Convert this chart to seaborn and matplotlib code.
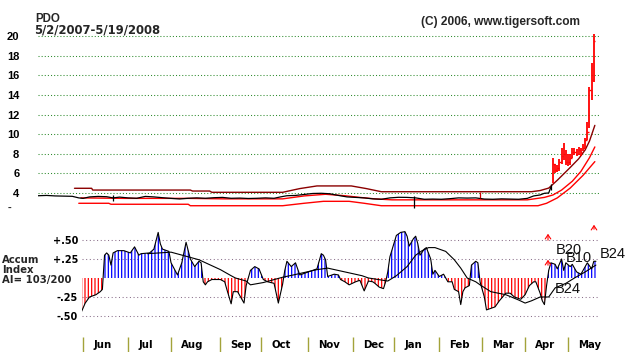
import matplotlib
matplotlib.use("Agg")
import matplotlib.pyplot as plt
import numpy as np
import seaborn as sns

# ---------------- data (trading-day index from 5/2/2007) ----------------
price_ticks = [4, 6, 8, 10, 12, 14, 16, 18, 20]
price_tick_labels = ["4", "6", "8", "10", "12", "14", "16", "18", "20"]

close_days = [0, 4, 8, 12, 16, 19, 21, 24, 28, 32, 35, 38, 42, 46, 50, 54, 58, 62, 66, 70,
              74, 78, 82, 86, 90, 94, 98, 102, 106, 110, 113, 116, 120, 124, 128, 132, 136,
              140, 144, 148, 152, 156, 160, 164, 168, 172, 176, 180, 184, 188, 192, 196, 200,
              204, 208, 212, 216, 220, 224, 228, 231, 234, 236, 238, 239]
close_vals = [3.72, 3.75, 3.70, 3.68, 3.66, 3.50, 3.45, 3.60, 3.65, 3.62, 3.50, 3.58, 3.50,
              3.46, 3.65, 3.60, 3.52, 3.45, 3.39, 3.46, 3.50, 3.46, 3.52, 3.55, 3.46, 3.48,
              3.44, 3.46, 3.50, 3.46, 3.60, 3.72, 3.75, 3.85, 3.95, 3.97, 3.92, 3.75, 3.60,
              3.55, 3.50, 3.40, 3.36, 3.50, 3.56, 3.55, 3.50, 3.36, 3.38, 3.36, 3.42, 3.50,
              3.48, 3.50, 3.38, 3.36, 3.40, 3.38, 3.36, 3.45, 3.70, 3.80, 3.97, 4.00, 4.60]

wick_days = [35, 175, 239]
wick_high = [3.75, 3.70, 4.90]
wick_low = [3.20, 2.50, 4.30]
red_wick_days = [206]
red_wick_high = [4.15]
red_wick_low = [3.50]

bar_days = [240, 241, 242, 243, 244, 245, 246, 247, 248, 249, 250, 251, 252, 253, 254, 255,
            256, 257, 258, 259]
bar_high = [7.6, 7.0, 6.9, 7.5, 8.6, 9.1, 8.4, 8.0, 8.0, 8.6, 8.6, 8.5, 8.7, 8.6, 9.0, 9.6,
            11.2, 14.8, 17.3, 20.2]
bar_low = [5.0, 6.0, 6.1, 6.2, 7.0, 7.4, 6.9, 6.8, 6.9, 7.6, 7.9, 7.8, 7.9, 7.8, 8.3, 8.6,
           9.4, 10.6, 13.5, 15.3]
bar_close = [7.0, 6.3, 6.5, 7.2, 7.8, 8.0, 7.2, 7.2, 7.6, 8.2, 8.2, 8.0, 8.4, 8.2, 8.6, 9.4,
             10.2, 14.5, 15.5, 19.5]

up_days = [17, 25, 25.5, 71, 72, 80, 81, 114, 122, 130, 146, 153, 160, 230, 234, 238, 242,
           248, 252, 255, 257, 259.5]
up_vals = [4.48, 4.48, 4.30, 4.30, 4.20, 4.20, 4.07, 4.07, 4.45, 4.72, 4.72, 4.45, 4.13,
           4.13, 4.25, 4.50, 5.30, 6.60, 7.50, 8.40, 9.30, 10.90]
mid_days = [20, 40, 70, 87, 114, 124, 134, 143, 150, 157, 165, 228, 236, 240, 244, 249, 253,
            257, 259.5]
mid_vals = [3.50, 3.45, 3.45, 3.40, 3.40, 3.70, 3.87, 3.72, 3.55, 3.40, 3.30, 3.30, 3.55,
            3.80, 4.30, 5.20, 6.20, 7.60, 8.70]
low_days = [19, 33, 34, 70, 71, 114, 124, 133, 145, 152, 160, 233, 237, 242, 248, 254, 259.5]
low_vals = [2.95, 2.95, 2.85, 2.85, 2.70, 2.70, 2.95, 3.15, 3.15, 2.95, 2.70, 2.70, 2.95,
            3.50, 4.50, 5.80, 7.20]

ai_days = [20, 22, 24, 27, 29, 30, 31, 32, 33, 34, 35, 37, 40, 43, 45, 47, 48, 52, 54, 56,
           57, 58, 61, 62, 65, 67, 69, 71, 73, 75, 76, 77, 78, 79, 81, 85, 87, 88, 90, 91,
           93, 96, 97, 99, 101, 103, 105, 107, 110, 112, 114, 115, 116, 118, 120, 122, 124,
           127, 130, 132, 133, 134, 135, 136, 138, 140, 141, 143, 145, 148, 150, 151, 152,
           154, 156, 157, 159, 161, 162, 163, 164, 167, 169, 171, 172, 173, 175, 176, 177,
           178, 180, 181, 183, 184, 185, 187, 189, 191, 193, 194, 196, 197, 198, 199, 201,
           202, 204, 205, 206, 208, 209, 211, 213, 215, 218, 220, 222, 225, 227, 229, 231,
           232, 234, 235, 236, 237, 238, 239, 241, 242, 244, 245, 246, 248, 249, 251, 253,
           255, 256, 258, 259, 260]
ai_vals = [-0.46, -0.33, -0.25, -0.22, -0.18, -0.15, 0.30, 0.33, 0.30, 0.17, 0.33, 0.36,
           0.36, 0.33, 0.41, 0.30, 0.32, 0.33, 0.38, 0.60, 0.45, 0.38, 0.35, 0.20, 0.04,
           0.20, 0.47, 0.25, 0.15, 0.22, 0.20, -0.05, -0.09, -0.05, -0.02, -0.02, -0.05,
           -0.15, -0.34, -0.18, -0.18, -0.33, -0.10, 0.10, 0.15, 0.12, -0.02, -0.05, -0.07,
           -0.33, -0.08, 0.10, 0.22, 0.15, 0.20, 0.04, 0.06, 0.09, 0.12, 0.32, 0.30, 0.24,
           0.02, 0.03, 0.05, 0.04, -0.02, -0.05, -0.09, -0.05, -0.03, -0.10, -0.17, -0.04,
           -0.05, -0.07, -0.12, -0.14, -0.05, 0.08, 0.28, 0.56, 0.60, 0.61, 0.55, 0.42,
           0.52, 0.55, 0.45, 0.30, 0.38, 0.40, 0.25, 0.05, 0.10, 0.02, 0.05, -0.05, -0.05,
           -0.15, -0.18, -0.35, -0.18, -0.13, -0.10, 0.17, 0.22, 0.20, -0.05, -0.25, -0.42,
           -0.40, -0.38, -0.30, -0.20, -0.20, -0.25, -0.28, -0.22, -0.10, -0.05, -0.05,
           -0.20, -0.30, -0.35, -0.10, 0.10, 0.20, 0.18, 0.12, 0.25, 0.10, 0.20, 0.15, 0.18,
           0.08, 0.05, 0.15, 0.20, 0.12, 0.22, 0.22]

ma_days = [51, 62, 75, 85, 90, 92, 97, 99, 105, 114, 119, 130, 135, 151, 154, 163, 167, 172,
           176, 179, 182, 185, 190, 194, 197, 200, 204, 206, 211, 218, 224, 227, 230, 234,
           238, 241, 246, 250, 255, 260]
ma_vals = [0.32, 0.34, 0.24, 0.11, 0.03, 0.00, -0.04, -0.09, -0.06, 0.01, 0.04, 0.11, 0.13,
           0.03, 0.00, -0.04, 0.03, 0.15, 0.30, 0.36, 0.40, 0.40, 0.35, 0.24, 0.13, 0.00,
           -0.05, -0.09, -0.18, -0.22, -0.29, -0.33, -0.30, -0.25, -0.25, -0.13, -0.07, 0.00,
           0.08, 0.17]

ai_ticks = [0.50, 0.25, -0.25, -0.50]
ai_tick_labels = ["+.50", "+.25", "-.25", "-.50"]

month_days = [21, 42, 62, 85, 104, 126, 147, 166, 187, 207, 227, 247]
month_names = ["Jun", "Jul", "Aug", "Sep", "Oct", "Nov", "Dec", "Jan", "Feb", "Mar", "Apr",
               "May"]

title_sym = "PDO"
title_dates = "5/2/2007-5/19/2008"
copyright_txt = "(C) 2006, www.tigersoft.com"
ai_label = ["Accum", "Index", "AI= 103/200"]

# ---------------- style ----------------
sns.set_theme(style="white")
plt.rcParams["font.family"] = ["DejaVu Sans"]
plt.rcParams["hatch.linewidth"] = 0.9

W, H = 638, 352
fig = plt.figure(figsize=(W / 100, H / 100), dpi=100)
fig.patch.set_facecolor("white")


def ftext(x, y, s, **kw):
    fig.text(x / W, 1 - y / H, s, **kw)


# ---------------- price panel ----------------
ax = fig.add_axes([38 / W, 1 - 222 / H, 562 / W, 192 / H])
ax.set_facecolor("white")
ax.set_xlim(0, 261.9)
ax.set_ylim(1.04, 20.63)
for s in ax.spines.values():
    s.set_visible(False)
ax.set_xticks([])
ax.set_yticks(price_ticks)
ax.set_yticklabels(price_tick_labels, fontfamily="Liberation Sans", fontweight="bold",
                   fontsize=8, color="black")
ax.tick_params(axis="y", length=0, pad=13.5)
for v in price_ticks:
    ax.axhline(v, color="#2e8b2e", lw=0.75, ls=(0, (1, 2)), zorder=0)

sns.lineplot(x=up_days, y=up_vals, ax=ax, color="#8b0000", lw=1.0, estimator=None, zorder=2)
sns.lineplot(x=mid_days, y=mid_vals, ax=ax, color="#ff0000", lw=1.0, estimator=None, zorder=2)
sns.lineplot(x=low_days, y=low_vals, ax=ax, color="#ff0000", lw=1.0, estimator=None, zorder=2)
sns.lineplot(x=close_days, y=close_vals, ax=ax, color="black", lw=0.9, estimator=None, zorder=3)
ax.vlines(wick_days, wick_low, wick_high, color="black", lw=0.9, zorder=3)
ax.vlines(red_wick_days, red_wick_low, red_wick_high, color="#cc0000", lw=0.9, zorder=3)
ax.vlines(bar_days, bar_low, bar_high, color="#ff0000", lw=1.3, zorder=4)
ax.hlines(bar_close, np.array(bar_days), np.array(bar_days) + 0.7, color="#ff0000", lw=1.0,
          zorder=4)

ftext(10, 211, "-", fontfamily="Liberation Sans", fontweight="bold", fontsize=8,
      ha="center", va="baseline")
ftext(35, 22, title_sym, fontfamily="Liberation Sans", fontweight="bold", fontsize=8.3,
      va="baseline")
ftext(34, 33.5, title_dates, fontweight="bold", fontsize=8.4, va="baseline")
ftext(421, 25, copyright_txt, fontfamily="Liberation Sans", fontweight="bold", fontsize=8.6,
      va="baseline")

# ---------------- accumulation index panel ----------------
ax2 = fig.add_axes([82 / W, 0, 518 / W, 124 / H])
ax2.set_facecolor("none")
ax2.set_xlim(20.5, 261.9)
ax2.set_ylim(-0.974, 0.658)
for s in ax2.spines.values():
    s.set_visible(False)
ax2.set_xticks([])
ax2.set_yticks(ai_ticks)
ax2.set_yticklabels(ai_tick_labels, fontweight="bold", fontsize=7, color="black")
ax2.tick_params(axis="y", length=0, pad=2.9)
for v in ai_ticks:
    ax2.axhline(v, color="#8a6f8a", lw=0.75, ls=(0, (1, 2.5)), zorder=0)

ai_x = np.array(ai_days, dtype=float)
ai_y = np.array(ai_vals)
ax2.fill_between(ai_x, 0, ai_y, where=ai_y >= 0, interpolate=True, facecolor="none",
                 edgecolor="#0000ff", hatch="|||||", linewidth=0, zorder=1)
ax2.fill_between(ai_x, 0, ai_y, where=ai_y <= 0, interpolate=True, facecolor="none",
                 edgecolor="#ff0000", hatch="|||||", linewidth=0, zorder=1)
sns.lineplot(x=ai_days, y=ai_vals, ax=ax2, color="black", lw=0.8, estimator=None, zorder=3)
sns.lineplot(x=ma_days, y=ma_vals, ax=ax2, color="black", lw=0.8, estimator=None, zorder=3)

ax2.vlines(month_days, 0, 15 / 124, transform=ax2.get_xaxis_transform(), color="#a3a33a",
           lw=1.0)
for d, name in zip(month_days, month_names):
    ax2.annotate(name, xy=(d, 0), xycoords=("data", "axes fraction"), xytext=(7.2, 4.7),
                 textcoords="offset points", ha="left", va="center", fontweight="bold",
                 fontsize=7.3, color="black")

for i, line in enumerate(ai_label):
    ftext(2, 263 + 10 * i, line, fontweight="bold", fontsize=7.3, va="baseline")

# signal annotations (overlapping as in the reference)
for (x, y, s) in [(556, 254, "B20"), (566, 262, "B10"), (600, 258, "B24"), (555, 293, "B24")]:
    ftext(x, y, s, fontfamily="Liberation Sans", fontsize=10.5, color="#111111",
          va="baseline")
for (x, y0, y1) in [(548, 243, 231), (548, 268, 257), (594, 232, 222)]:
    fig.add_artist(matplotlib.patches.FancyArrowPatch(
        (x / W, 1 - y0 / H), (x / W, 1 - y1 / H), transform=fig.transFigure,
        arrowstyle="->,head_length=3,head_width=2", color="#ff0000", lw=0.8))

fig.savefig("out.png", dpi=100, facecolor="white")
